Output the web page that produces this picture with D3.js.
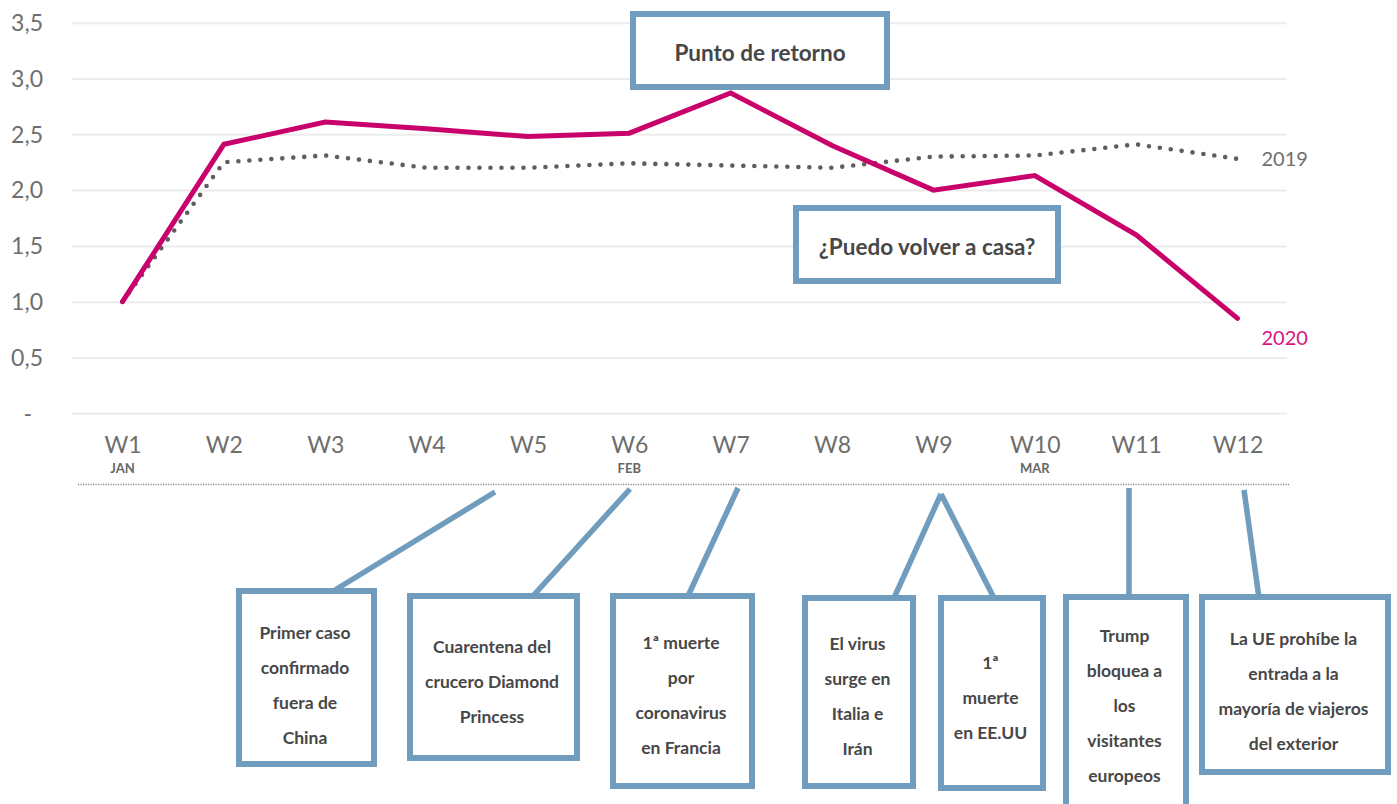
<!DOCTYPE html>
<html lang="es">
<head>
<meta charset="utf-8">
<title>Búsquedas semanales 2019 vs 2020</title>
<script src="https://cdn.jsdelivr.net/npm/d3@7"></script>
<style>
  html, body { margin: 0; padding: 0; background: #fff; }
  svg { display: block; }
</style>
</head>
<body>
<svg id="chart" width="1397" height="804"></svg>
<script>
// ---- data ----
const weeks = ["W1","W2","W3","W4","W5","W6","W7","W8","W9","W10","W11","W12"];
const months = [{ week: "W1", label: "JAN" }, { week: "W6", label: "FEB" }, { week: "W10", label: "MAR" }];
const values2019 = [1.0, 2.25, 2.31, 2.20, 2.20, 2.24, 2.22, 2.20, 2.30, 2.31, 2.41, 2.28];
const values2020 = [1.0, 2.41, 2.61, 2.55, 2.48, 2.51, 2.87, 2.40, 2.00, 2.13, 1.60, 0.85];
const yTicks = [0, 0.5, 1.0, 1.5, 2.0, 2.5, 3.0, 3.5];
const yTickLabels = ["-", "0,5", "1,0", "1,5", "2,0", "2,5", "3,0", "3,5"];
const seriesNames = ["2019", "2020"];

const headlines = ["Punto de retorno", "¿Puedo volver a casa?"];
const events = [
  ["Primer caso", "confirmado", "fuera de", "China"],
  ["Cuarentena del", "crucero Diamond", "Princess"],
  ["1ª muerte", "por", "coronavirus", "en Francia"],
  ["El virus", "surge en", "Italia e", "Irán"],
  ["1ª", "muerte", "en EE.UU"],
  ["Trump", "bloquea a", "los", "visitantes", "europeos"],
  ["La UE prohíbe la", "entrada a la", "mayoría de viajeros", "del exterior"]
];

// ---- layout ----
const W = 1397, H = 804;
const plot = { left: 72, right: 1287, top: 22.7, bottom: 413.3 };
const colors = {
  grid: "#ececec", axis: "#6e6e6e", month: "#666",
  s2019: "#5e5e5e", s2020: "#c9026b", label2020: "#d7157f",
  box: "#709cbd", boxText: "#474747", rule: "#8a8a8a"
};
// callout boxes: outer edges [x0, y0, x1, y1], text block centre, connector (from -> to)
const headlineLayout = [
  { box: [630, 11, 890, 90], cy: 53, size: 22.5 },
  { box: [793, 205, 1061, 284], cy: 247, size: 22.5 }
];
const eventLayout = [
  { box: [236, 588, 377, 767], cy: 685.5, link: [495, 492, 335, 590] },
  { box: [407, 593, 580, 761], cy: 681.7, link: [630, 489, 532, 597] },
  { box: [610, 593, 755, 789], cy: 695.5, link: [738, 488, 688, 596] },
  { box: [802, 595, 916, 789], cy: 696, link: [941, 494, 894, 598] },
  { box: [938, 595, 1046, 791], cy: 698, link: [941, 494, 994, 598] },
  { box: [1063, 594, 1189, 830], cy: 706, link: [1129, 488, 1129, 598] },
  { box: [1199, 594, 1391, 775], cy: 691, link: [1244, 490, 1259, 598] }
];
const boxStroke = 6;
const lineGap = 35;

const svg = d3.select("#chart");
svg.append("rect").attr("width", W).attr("height", H).attr("fill", "#fff");

const x = d3.scalePoint().domain(weeks).range([122.5, 1237.5]);
const y = d3.scaleLinear().domain([0, 3.5]).range([plot.bottom, plot.top]);

// ---- grid + y axis labels ----
const yAxis = d3.axisLeft(y)
  .tickValues(yTicks)
  .tickSize(-(plot.right - plot.left))
  .tickPadding(29)
  .tickFormat((d, i) => yTickLabels[i]);
const gy = svg.append("g").attr("transform", `translate(${plot.left},0)`).call(yAxis);
gy.select(".domain").remove();
gy.selectAll(".tick line").attr("stroke", colors.grid).attr("stroke-width", 2);
gy.selectAll(".tick text")
  .attr("fill", colors.axis)
  .attr("font-family", "Lato, 'Open Sans', sans-serif")
  .attr("font-size", 23)
  .attr("dy", "0.34em")
  .attr("dx", d => d === 0 ? -11 : 0);

// ---- x axis labels ----
const xAxis = d3.axisBottom(x).tickSize(0).tickPadding(0);
const gx = svg.append("g").attr("transform", `translate(0,${plot.bottom + 23})`).call(xAxis);
gx.select(".domain").remove();
gx.selectAll(".tick text")
  .attr("fill", colors.axis)
  .attr("font-family", "Lato, 'Open Sans', sans-serif")
  .attr("font-size", 23)
  .attr("dy", "0.72em");

svg.append("g").selectAll("text").data(months).join("text")
  .attr("x", d => x(d.week))
  .attr("y", 473)
  .attr("text-anchor", "middle")
  .attr("fill", colors.month)
  .attr("font-family", "Lato, 'Open Sans', sans-serif")
  .attr("font-weight", 700)
  .attr("font-size", 13)
  .text(d => d.label);

// dotted timeline rule under the axis
svg.append("line")
  .attr("x1", 78).attr("x2", 1290).attr("y1", 484.5).attr("y2", 484.5)
  .attr("stroke", colors.rule).attr("stroke-width", 1.5)
  .attr("stroke-dasharray", "1.2,1.3");

// ---- series lines ----
const line = d3.line().x((d, i) => x(weeks[i])).y(d => y(d));

svg.append("path").datum(values2019)
  .attr("d", line)
  .attr("fill", "none")
  .attr("stroke", colors.s2019)
  .attr("stroke-width", 4.6)
  .attr("stroke-linecap", "round")
  .attr("stroke-dasharray", "0,11");

svg.append("path").datum(values2020)
  .attr("d", line)
  .attr("fill", "none")
  .attr("stroke", colors.s2020)
  .attr("stroke-width", 5)
  .attr("stroke-linejoin", "miter")
  .attr("stroke-linecap", "round");

// series end labels
const lastIdx = weeks.length - 1;
svg.append("text")
  .attr("x", x(weeks[lastIdx]) + 24).attr("y", y(values2019[lastIdx]))
  .attr("dy", "0.35em")
  .attr("fill", colors.axis)
  .attr("font-family", "Lato, 'Open Sans', sans-serif")
  .attr("font-size", 20)
  .text(seriesNames[0]);
svg.append("text")
  .attr("x", x(weeks[lastIdx]) + 24).attr("y", y(values2020[lastIdx]) + 20)
  .attr("dy", "0.35em")
  .attr("fill", colors.label2020)
  .attr("font-family", "Lato, 'Open Sans', sans-serif")
  .attr("font-size", 20)
  .text(seriesNames[1]);

// ---- callouts ----
function drawBox(g, b) {
  g.append("rect")
    .attr("x", b[0] + boxStroke / 2).attr("y", b[1] + boxStroke / 2)
    .attr("width", b[2] - b[0] - boxStroke).attr("height", b[3] - b[1] - boxStroke)
    .attr("fill", "#fff")
    .attr("stroke", colors.box)
    .attr("stroke-width", boxStroke);
}

const gh = svg.append("g");
headlines.forEach((txt, i) => {
  const L = headlineLayout[i];
  drawBox(gh, L.box);
  gh.append("text")
    .attr("x", (L.box[0] + L.box[2]) / 2).attr("y", L.cy)
    .attr("dy", "0.36em")
    .attr("text-anchor", "middle")
    .attr("fill", colors.boxText)
    .attr("font-family", "Lato, 'Open Sans', sans-serif")
    .attr("font-weight", 700)
    .attr("font-size", L.size)
    .text(txt);
});

const ge = svg.append("g");
events.forEach((lines, i) => {
  const L = eventLayout[i];
  ge.append("line")
    .attr("x1", L.link[0]).attr("y1", L.link[1])
    .attr("x2", L.link[2]).attr("y2", L.link[3])
    .attr("stroke", colors.box).attr("stroke-width", 5.5);
});
events.forEach((lines, i) => {
  const L = eventLayout[i];
  drawBox(ge, L.box);
  const cx = (L.box[0] + L.box[2]) / 2 - 1.5;
  const y0 = L.cy - (lines.length - 1) * lineGap / 2;
  ge.append("g").selectAll("text").data(lines).join("text")
    .attr("x", cx)
    .attr("y", (d, j) => y0 + j * lineGap)
    .attr("dy", "0.36em")
    .attr("text-anchor", "middle")
    .attr("fill", colors.boxText)
    .attr("font-family", "Lato, 'Open Sans', sans-serif")
    .attr("font-weight", 700)
    .attr("font-size", 17.5)
    .text(d => d);
});
</script>
</body>
</html>
